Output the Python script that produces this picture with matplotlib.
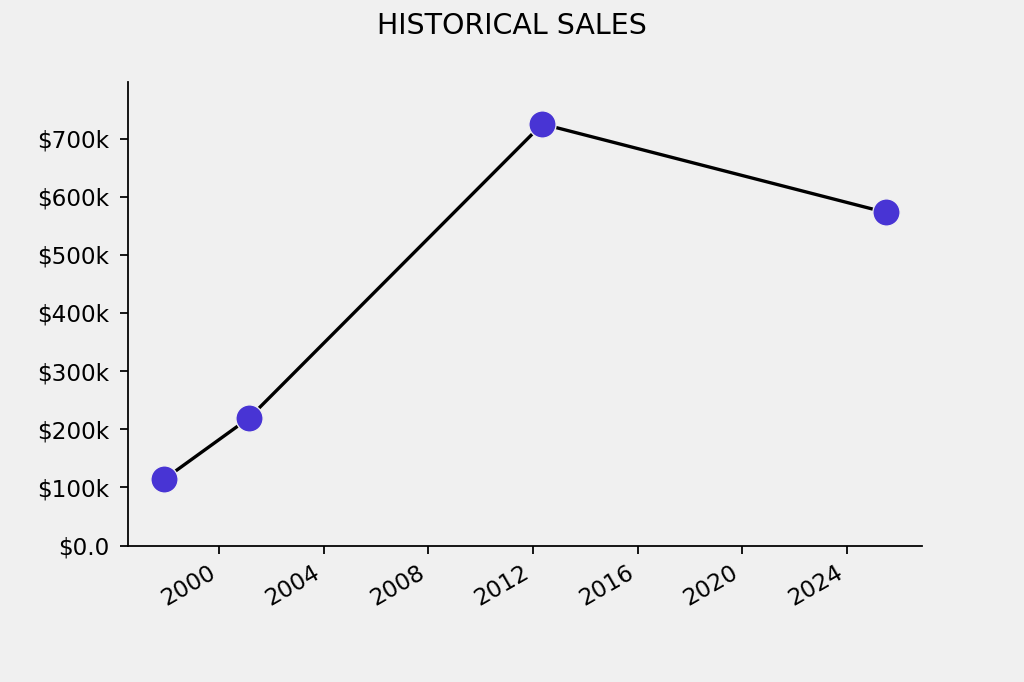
import datetime as dt
import matplotlib
matplotlib.use("Agg")
import matplotlib.pyplot as plt
from matplotlib.ticker import FuncFormatter

# datos
fechas = [dt.date(1997, 11, 20), dt.date(2001, 2, 25), dt.date(2012, 5, 10), dt.date(2025, 6, 28)]
ventas = [114000, 220000, 725000, 573000]


def formato_dolar(x, pos):
    if x == 0:
        return "$0.0"
    return f"${x / 1000:.0f}k"


fig, ax = plt.subplots(figsize=(6.4, 4.2625), dpi=160)
fig.patch.set_facecolor("#f0f0f0")
ax.set_facecolor("#f0f0f0")

ax.plot(fechas, ventas, color="black", linewidth=1.5, zorder=2)
ax.scatter(fechas, ventas, s=150, color="#4834d4", edgecolor="#f0f0f0",
           linewidth=0.6, zorder=3)

ax.set_ylim(0, max(ventas) * 1.1)
ax.yaxis.set_major_formatter(FuncFormatter(formato_dolar))
ax.tick_params(labelsize=10.4)
ax.tick_params(axis="y", pad=4.8)

ax.spines["top"].set_visible(False)
ax.spines["right"].set_visible(False)

fig.autofmt_xdate()
fig.text(0.5, 1 - 26 / 682, "HISTORICAL SALES", ha="center", va="center", fontsize=12.8)

fig.savefig("out.png", facecolor=fig.get_facecolor())
